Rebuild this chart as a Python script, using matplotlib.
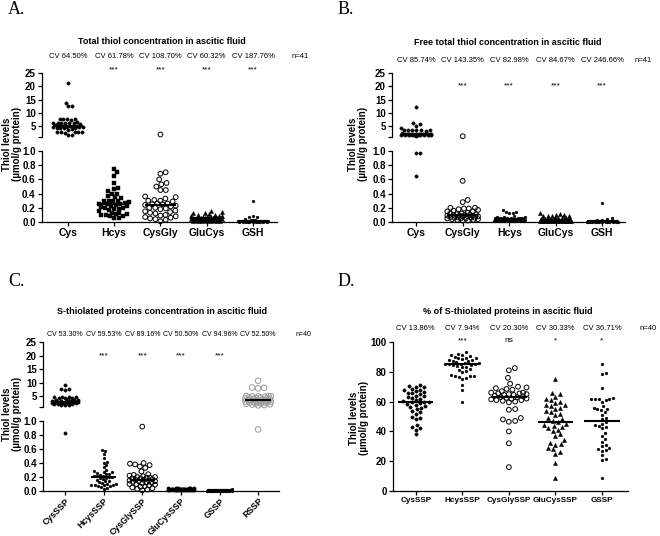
import numpy as np
import matplotlib
matplotlib.use('Agg')
import matplotlib.pyplot as plt
from matplotlib.transforms import blended_transform_factory

plt.rcParams['font.family'] = ['Liberation Sans', 'DejaVu Sans']

W, H = 660, 536

# ---- panel A: total thiols ----
a_cats = ['Cys', 'Hcys', 'CysGly', 'GluCys', 'GSH']
a_cv = ['CV 64.50%', 'CV 61.78%', 'CV 108.70%', 'CV 60.32%', 'CV 187.76%']
a_sig = ['', '***', '***', '***', '***']
a_cys = [21.3, 13.7, 12.8, 12.5, 7.9, 7.8, 7.7, 7.6, 7.5, 6.5, 6.4, 6.3, 6.3, 6.2, 6.2, 6.1, 6.0,
         5.4, 5.3, 5.2, 5.1, 5.0, 5.0, 4.9, 4.8, 4.7, 4.6, 4.5, 4.4, 4.3, 4.2, 4.0, 3.8,
         2.9, 2.8, 2.8, 2.7, 2.7, 2.6, 1.8, 1.7]
a_hcys = [0.75, 0.70, 0.65, 0.55, 0.48, 0.46, 0.43, 0.40, 0.40, 0.36, 0.35, 0.34, 0.30, 0.30,
          0.29, 0.29, 0.28, 0.27, 0.26, 0.25, 0.25, 0.24, 0.23, 0.22, 0.21, 0.20, 0.20, 0.19,
          0.18, 0.17, 0.15, 0.12, 0.12, 0.11, 0.11, 0.10, 0.10, 0.09, 0.08, 0.06, 0.05]
a_cysgly = [1.95, 0.70, 0.68, 0.60, 0.55, 0.53, 0.50, 0.45, 0.45, 0.36, 0.35, 0.33, 0.31, 0.30,
            0.30, 0.29, 0.26, 0.26, 0.25, 0.25, 0.24, 0.23, 0.22, 0.20, 0.20, 0.19, 0.18, 0.16,
            0.15, 0.14, 0.13, 0.12, 0.10, 0.09, 0.08, 0.07, 0.06, 0.05, 0.04, 0.03, 0.01]
a_glucys = [0.16, 0.14, 0.13, 0.12, 0.11, 0.10, 0.10, 0.09, 0.08, 0.08, 0.07, 0.07, 0.07, 0.06,
            0.06, 0.06, 0.06, 0.05, 0.05, 0.05, 0.05, 0.05, 0.04, 0.04, 0.04, 0.04, 0.04, 0.04,
            0.03, 0.03, 0.03, 0.03, 0.03, 0.03, 0.02, 0.02, 0.02, 0.02, 0.01, 0.01, 0.01]
a_gsh = [0.30, 0.08, 0.07, 0.07, 0.04, 0.03, 0.03, 0.03, 0.02, 0.02, 0.02, 0.02, 0.02, 0.02,
         0.02, 0.02, 0.01, 0.01, 0.01, 0.01, 0.01, 0.01, 0.01, 0.01, 0.01, 0.01, 0.01, 0.01,
         0.01, 0.01, 0.005, 0.005, 0.005, 0.005, 0.005, 0.005, 0.005, 0.005, 0.005, 0.005, 0.005]

# ---- panel B: free thiols ----
b_cats = ['Cys', 'CysGly', 'Hcys', 'GluCys', 'GSH']
b_cv = ['CV 85.74%', 'CV 143.35%', 'CV 82.98%', 'CV 84.67%', 'CV 246.66%']
b_sig = ['', '***', '***', '***', '***']
b_cys = [12.4, 6.3, 5.8, 5.3, 4.4, 3.7, 3.6, 3.6, 3.5, 3.5, 3.5, 3.4, 2.4, 2.3, 2.3, 2.2, 2.2,
         2.2, 2.1, 2.1, 2.1, 2.0, 2.0, 2.0, 2.0, 2.0, 1.9, 1.9, 1.9, 1.9, 1.8, 1.8, 1.8, 1.7,
         1.7, 1.6, 1.6, 1.5, 0.97, 0.97, 0.65]
b_cysgly = [1.3, 0.58, 0.31, 0.28, 0.20, 0.20, 0.19, 0.19, 0.18, 0.17, 0.16, 0.15, 0.15, 0.13,
            0.12, 0.12, 0.11, 0.11, 0.10, 0.10, 0.10, 0.09, 0.09, 0.09, 0.08, 0.08, 0.08, 0.07,
            0.07, 0.06, 0.06, 0.06, 0.05, 0.05, 0.05, 0.04, 0.04, 0.03, 0.03, 0.02, 0.02]
b_hcys = [0.17, 0.14, 0.14, 0.13, 0.13, 0.08, 0.07, 0.07, 0.07, 0.06, 0.06, 0.06, 0.06, 0.05,
          0.05, 0.05, 0.05, 0.04, 0.04, 0.04, 0.04, 0.04, 0.03, 0.03, 0.03, 0.03, 0.03, 0.03,
          0.03, 0.02, 0.02, 0.02, 0.02, 0.02, 0.02, 0.01, 0.01, 0.01, 0.01, 0.01, 0.01]
b_glucys = [0.12, 0.11, 0.10, 0.10, 0.09, 0.09, 0.09, 0.08, 0.06, 0.05, 0.05, 0.05, 0.04, 0.04,
            0.04, 0.04, 0.04, 0.03, 0.03, 0.03, 0.03, 0.03, 0.03, 0.03, 0.02, 0.02, 0.02, 0.02,
            0.02, 0.02, 0.02, 0.02, 0.01, 0.01, 0.01, 0.01, 0.01, 0.01, 0.01, 0.01, 0.01]
b_gsh = [0.27, 0.05, 0.04, 0.03, 0.03, 0.02, 0.02, 0.02, 0.02, 0.02, 0.02, 0.02, 0.01, 0.01,
         0.01, 0.01, 0.01, 0.01, 0.01, 0.01, 0.01, 0.01, 0.01, 0.01, 0.01, 0.01, 0.01, 0.005,
         0.005, 0.005, 0.005, 0.005, 0.005, 0.005, 0.005, 0.005, 0.005, 0.005, 0.005, 0.005, 0.005]

# ---- panel C: S-thiolated proteins ----
c_cats = ['CysSSP', 'HcysSSP', 'CysGlySSP', 'GluCysSSP', 'GSSP', 'RSSP']
c_cv = ['CV 53.30%', 'CV 59.53%', 'CV 89.16%', 'CV 50.50%', 'CV 94.96%', 'CV 52.50%']
c_sig = ['', '***', '***', '***', '***', '']
c_cys = [9.2, 7.7, 7.5, 7.4, 4.7, 4.6, 4.6, 4.6, 4.5, 4.5, 4.5, 3.8, 3.7, 3.6, 3.5, 3.4, 3.3,
         3.2, 3.1, 3.0, 3.0, 2.9, 2.9, 2.8, 2.8, 2.7, 2.7, 2.6, 2.6, 2.5, 2.5, 2.4, 2.3, 2.2,
         2.1, 2.0, 1.9, 1.8, 1.6, 0.83]
c_hcys = [0.58, 0.57, 0.53, 0.47, 0.42, 0.40, 0.37, 0.34, 0.30, 0.28, 0.27, 0.27, 0.26, 0.25,
          0.24, 0.23, 0.22, 0.22, 0.21, 0.20, 0.20, 0.19, 0.18, 0.17, 0.16, 0.15, 0.14, 0.13,
          0.12, 0.10, 0.10, 0.09, 0.09, 0.08, 0.08, 0.07, 0.07, 0.06, 0.05, 0.03]
c_cysgly = [0.92, 0.40, 0.39, 0.38, 0.37, 0.35, 0.33, 0.28, 0.24, 0.23, 0.22, 0.21, 0.20, 0.20,
            0.19, 0.19, 0.18, 0.18, 0.17, 0.16, 0.16, 0.15, 0.15, 0.14, 0.14, 0.13, 0.12, 0.12,
            0.11, 0.10, 0.10, 0.09, 0.08, 0.07, 0.06, 0.05, 0.04, 0.03, 0.02, 0.01]
c_glucys = [0.05, 0.05, 0.04, 0.04, 0.04, 0.04, 0.03, 0.03, 0.03, 0.03, 0.03, 0.03, 0.03, 0.03,
            0.03, 0.03, 0.025, 0.025, 0.025, 0.025, 0.025, 0.025, 0.025, 0.025, 0.025, 0.025,
            0.02, 0.02, 0.02, 0.02, 0.02, 0.02, 0.02, 0.02, 0.015, 0.015, 0.015, 0.015, 0.01, 0.01]
c_gs = [0.03, 0.02, 0.02, 0.015, 0.015, 0.015, 0.015, 0.015, 0.01, 0.01, 0.01, 0.01, 0.01, 0.01,
        0.01, 0.01, 0.01, 0.01, 0.01, 0.01, 0.01, 0.01, 0.01, 0.01, 0.005, 0.005, 0.005, 0.005,
        0.005, 0.005, 0.005, 0.005, 0.005, 0.005, 0.005, 0.005, 0.005, 0.005, 0.005, 0.005]
c_rssp = [10.7, 8.2, 8.1, 7.9, 5.1, 5.0, 5.0, 4.9, 4.9, 4.8, 4.6, 4.5, 4.3, 4.2, 4.1, 4.0, 3.9,
          3.8, 3.7, 3.6, 3.5, 3.5, 3.4, 3.3, 3.2, 3.1, 3.0, 2.9, 2.8, 2.7, 2.6, 2.5, 2.4, 2.3,
          2.2, 2.0, 1.9, 1.7, 1.6, 0.88]

# ---- panel D: % S-thiolated ----
d_cats = ['CysSSP', 'HcysSSP', 'CysGlySSP', 'GluCysSSP', 'GSSP']
d_cv = ['CV 13.86%', 'CV 7.94%', 'CV 20.30%', 'CV 30.33%', 'CV 36.71%']
d_sig = ['', '***', 'ns', '*', '*']
d_cys = [71, 70.5, 70, 69.5, 68.5, 68, 67.5, 67, 66.5, 66, 65.5, 65, 64, 63.5, 63, 62.5, 62,
         61, 60.5, 60, 60, 59.5, 59, 58.5, 58, 57, 56.5, 56, 55, 54, 53, 52, 50, 49, 48.5,
         44, 43, 42, 41, 38]
d_hcys = [93, 92, 91.5, 91, 90.5, 90, 89.5, 89, 89, 88.5, 88, 88, 87.5, 87, 86.5, 86, 86,
          85.5, 85.5, 85, 85, 84.8, 84.5, 84, 83.5, 83, 82, 81.5, 80.5, 80, 78, 77.5, 77, 77,
          76.5, 76, 75.5, 71, 68, 59.5]
d_cysgly = [82.5, 81, 76, 72, 70, 69.5, 69, 68.5, 68, 67, 66, 66, 65.5, 65.5, 65, 65, 64.5,
            64.5, 64, 63.5, 63, 63, 62.5, 62, 62, 61.5, 61, 61, 60.5, 60, 59.5, 55, 54.5, 49,
            48, 47, 46.5, 40, 32, 16]
d_glucys = [75, 65.5, 65, 63, 62, 61, 60, 59, 58, 57.5, 57, 56, 55, 54, 53, 52, 51, 49, 48,
            47, 46, 45, 44, 43.5, 43, 42, 41, 40, 38, 37, 34, 32, 31.5, 31, 29, 28, 26.5, 25,
            19, 8.5]
d_gs = [85, 79, 78.5, 69, 62.5, 62, 62, 61.5, 61.5, 61, 60, 57, 56, 55, 55, 54.5, 53, 51, 49,
        48, 46, 45, 44, 43.5, 43, 42, 39, 37, 35, 33, 31, 30, 29, 28, 27.5, 27, 24, 21.5, 21, 9]

# marker kwargs and swarm spacing (px)
STYLES = {
    'dot': (dict(marker='o', s=2.4 ** 2, facecolors='k', edgecolors='k', linewidths=0.3), 3.3),
    'sq': (dict(marker='s', s=2.8 ** 2, facecolors='k', edgecolors='k', linewidths=0.3), 3.9),
    'open': (dict(marker='o', s=3.4 ** 2, facecolors='none', edgecolors='k', linewidths=0.7), 4.7),
    'tri': (dict(marker='^', s=3.0 ** 2, facecolors='k', edgecolors='k', linewidths=0.3), 3.9),
    'small': (dict(marker='o', s=2.0 ** 2, facecolors='k', edgecolors='k', linewidths=0.3), 3.0),
    'grey': (dict(marker='o', s=4.0 ** 2, facecolors='none', edgecolors='0.6', linewidths=0.7), 5.4),
}

fig = plt.figure(figsize=(6.6, 5.36), dpi=100)


def box(x0, y0, x1, y1):
    return [x0 / W, 1 - y1 / H, (x1 - x0) / W, (y1 - y0) / H]


def fy(y):
    return 1 - y / H


def swarm_offsets(ys, d, maxw):
    # beeswarm, but never wider than maxw: crowded points are allowed to overlap
    order = np.argsort(ys)
    xs = np.zeros(len(ys))
    placed = []
    grid = np.linspace(-maxw, maxw, 31)
    for i in order:
        y = ys[i]
        near = [(px, py) for px, py in placed if abs(py - y) < d]
        cands = [0.0]
        for px, py in near:
            dx = np.sqrt(d * d - (py - y) ** 2)
            cands += [px + dx, px - dx]
        cands = sorted([c for c in cands if abs(c) <= maxw], key=abs)
        chosen = None
        for c in cands:
            if all((c - px) ** 2 + (y - py) ** 2 >= d * d - 1e-6 for px, py in near):
                chosen = c
                break
        if chosen is None:
            chosen = max(grid, key=lambda g: (min((g - px) ** 2 + (y - py) ** 2 for px, py in near), -abs(g)))
        xs[i] = chosen
        placed.append((chosen, y))
    return xs


def draw_group(axes, xpos, vals, style, spread=1.0, half=0.33):
    kw, d = STYLES[style]
    vals = np.asarray(vals, float)
    which = [axes[1] if (len(axes) > 1 and v >= 1) else axes[0] for v in vals]
    pts = np.array([ax.transData.transform((xpos, v)) for ax, v in zip(which, vals)])
    unit = axes[0].transData.transform((1, 0))[0] - axes[0].transData.transform((0, 0))[0]
    offs = swarm_offsets(pts[:, 1], d * spread, half * unit)
    for ax in axes:
        sel = [i for i in range(len(vals)) if which[i] is ax]
        if not sel:
            continue
        xd = [ax.transData.inverted().transform((pts[i, 0] + offs[i], pts[i, 1]))[0] for i in sel]
        ax.scatter(xd, vals[sel], clip_on=False, zorder=3, **kw)
    med = np.median(vals)
    ax = axes[1] if (len(axes) > 1 and med >= 1) else axes[0]
    ax.hlines(med, xpos - half, xpos + half, color='k', lw=1.5, zorder=4)


def style_axis(ax):
    for s in ['top', 'right']:
        ax.spines[s].set_visible(False)
    for s in ['left', 'bottom']:
        ax.spines[s].set_linewidth(0.9)
    ax.tick_params(direction='out', length=3, width=0.9, pad=1.5)


def broken(x0, x1, top, m1, m2, bottom, xlim):
    up = fig.add_axes(box(x0, top, x1, m1))
    lo = fig.add_axes(box(x0, m2, x1, bottom))
    for ax in (up, lo):
        ax.set_xlim(xlim)
        ax.patch.set_alpha(0)
        style_axis(ax)
    up.set_ylim(1, 25)
    lo.set_ylim(0, 1)
    up.spines['bottom'].set_visible(False)
    up.set_xticks([])
    up.set_yticks([1, 5, 10, 15, 20, 25])
    up.set_yticklabels(['', '5', '10', '15', '20', '25'], fontsize=7, fontweight='bold')
    lo.set_yticks([0, 0.2, 0.4, 0.6, 0.8, 1.0])
    lo.set_yticklabels(['0.0', '0.2', '0.4', '0.6', '0.8', '1.0'], fontsize=7, fontweight='bold')
    return [lo, up]


def headers(ax, letter, lx, ly, title, tx, ty, cv, cv_y, cv_fs, n_txt, n_x, ylx, yly):
    fig.text(lx / W, fy(ly), letter, family='Liberation Serif', fontsize=13, va='center')
    fig.text(tx / W, fy(ty), title, fontsize=6.5, fontweight='bold', ha='center', va='center')
    tr = blended_transform_factory(ax.transData, fig.transFigure)
    for i, t in enumerate(cv):
        ax.text(i, fy(cv_y), t, transform=tr, fontsize=cv_fs, ha='center', va='center')
    fig.text(n_x / W, fy(cv_y), n_txt, fontsize=cv_fs, ha='center', va='center')
    fig.text(ylx / W, fy(yly), 'Thiol levels\n(\u00b5mol/g protein)', rotation=90,
             fontsize=7, fontweight='bold', ha='center', va='center', linespacing=1.1)


def sig_marks(ax, sig, y, transform_fig=False):
    for i, s in enumerate(sig):
        if not s:
            continue
        if transform_fig:
            tr = blended_transform_factory(ax.transData, fig.transFigure)
            ax.text(i, fy(y), s, transform=tr, fontsize=6, ha='center', va='center')
        else:
            ax.text(i, y, s, fontsize=6, ha='center', va='center', clip_on=False)


# ---------- A ----------
axA = broken(42, 277, 73, 137, 151, 222, (-0.56, 4.52))
for i, (vals, st) in enumerate(zip([a_cys, a_hcys, a_cysgly, a_glucys, a_gsh],
                                   ['dot', 'sq', 'open', 'tri', 'small'])):
    draw_group(axA, i, vals, st, spread=1.15, half=0.33)
axA[0].set_xticks(range(len(a_cats)))
axA[0].set_xticklabels(a_cats, fontsize=7.5, fontweight='bold')
headers(axA[0], 'A.', 8, 10, 'Total thiol concentration in ascitic fluid', 162, 41,
        a_cv, 56, 5.5, 'n=41', 300, 12, 144)
sig_marks(axA[0], a_sig, 70, transform_fig=True)

# ---------- B ----------
axB = broken(392, 625, 73, 137, 151, 222, (-0.52, 4.49))
for i, (vals, st) in enumerate(zip([b_cys, b_cysgly, b_hcys, b_glucys, b_gsh],
                                   ['dot', 'open', 'small', 'tri', 'small'])):
    draw_group(axB, i, vals, st, spread=1.15, half=0.33)
axB[0].set_xticks(range(len(b_cats)))
axB[0].set_xticklabels(b_cats, fontsize=7.5, fontweight='bold')
headers(axB[0], 'B.', 338, 10, 'Free total thiol concentration in ascitic fluid', 508, 42,
        b_cv, 61, 5.5, 'n=41', 643, 358, 144)
sig_marks(axB[1], b_sig, 20)

# ---------- C ----------
axC = broken(43, 279, 342, 407, 421, 491, (-0.57, 5.54))
for i, (vals, st) in enumerate(zip([c_cys, c_hcys, c_cysgly, c_glucys, c_gs, c_rssp],
                                   ['dot', 'small', 'open', 'dot', 'small', 'grey'])):
    draw_group(axC, i, vals, st, spread=1.1, half=0.33)
axC[0].set_xticks(range(len(c_cats)))
axC[0].set_xticklabels(c_cats, fontsize=6.3, fontweight='bold', rotation=45,
                       ha='right', rotation_mode='anchor')
axC[0].tick_params(axis='x', pad=1)
headers(axC[0], 'C.', 8, 281, 'S-thiolated proteins concentration in ascitic fluid', 162, 312,
        c_cv, 335, 5.0, 'n=40', 303, 12, 414)
sig_marks(axC[1], c_sig, 20)

# ---------- D ----------
axD = fig.add_axes(box(393, 342, 628, 491))
style_axis(axD)
axD.set_xlim(-0.49, 4.56)
axD.set_ylim(0, 100)
for i, (vals, st) in enumerate(zip([d_cys, d_hcys, d_cysgly, d_glucys, d_gs],
                                   ['dot', 'small', 'open', 'tri', 'small'])):
    draw_group([axD], i, vals, st, spread=1.35, half=0.38)
axD.set_yticks([0, 20, 40, 60, 80, 100])
axD.set_yticklabels(['0', '20', '40', '60', '80', '100'], fontsize=7, fontweight='bold')
axD.set_xticks(range(len(d_cats)))
axD.set_xticklabels(d_cats, fontsize=5.9, fontweight='bold')
headers(axD, 'D.', 338, 281, '% of S-thiolated proteins in ascitic fluid', 508, 312,
        d_cv, 329, 5.5, 'n=40', 648, 359, 418)
sig_marks(axD, d_sig, 341, transform_fig=True)

fig.savefig('out.png', dpi=100)
